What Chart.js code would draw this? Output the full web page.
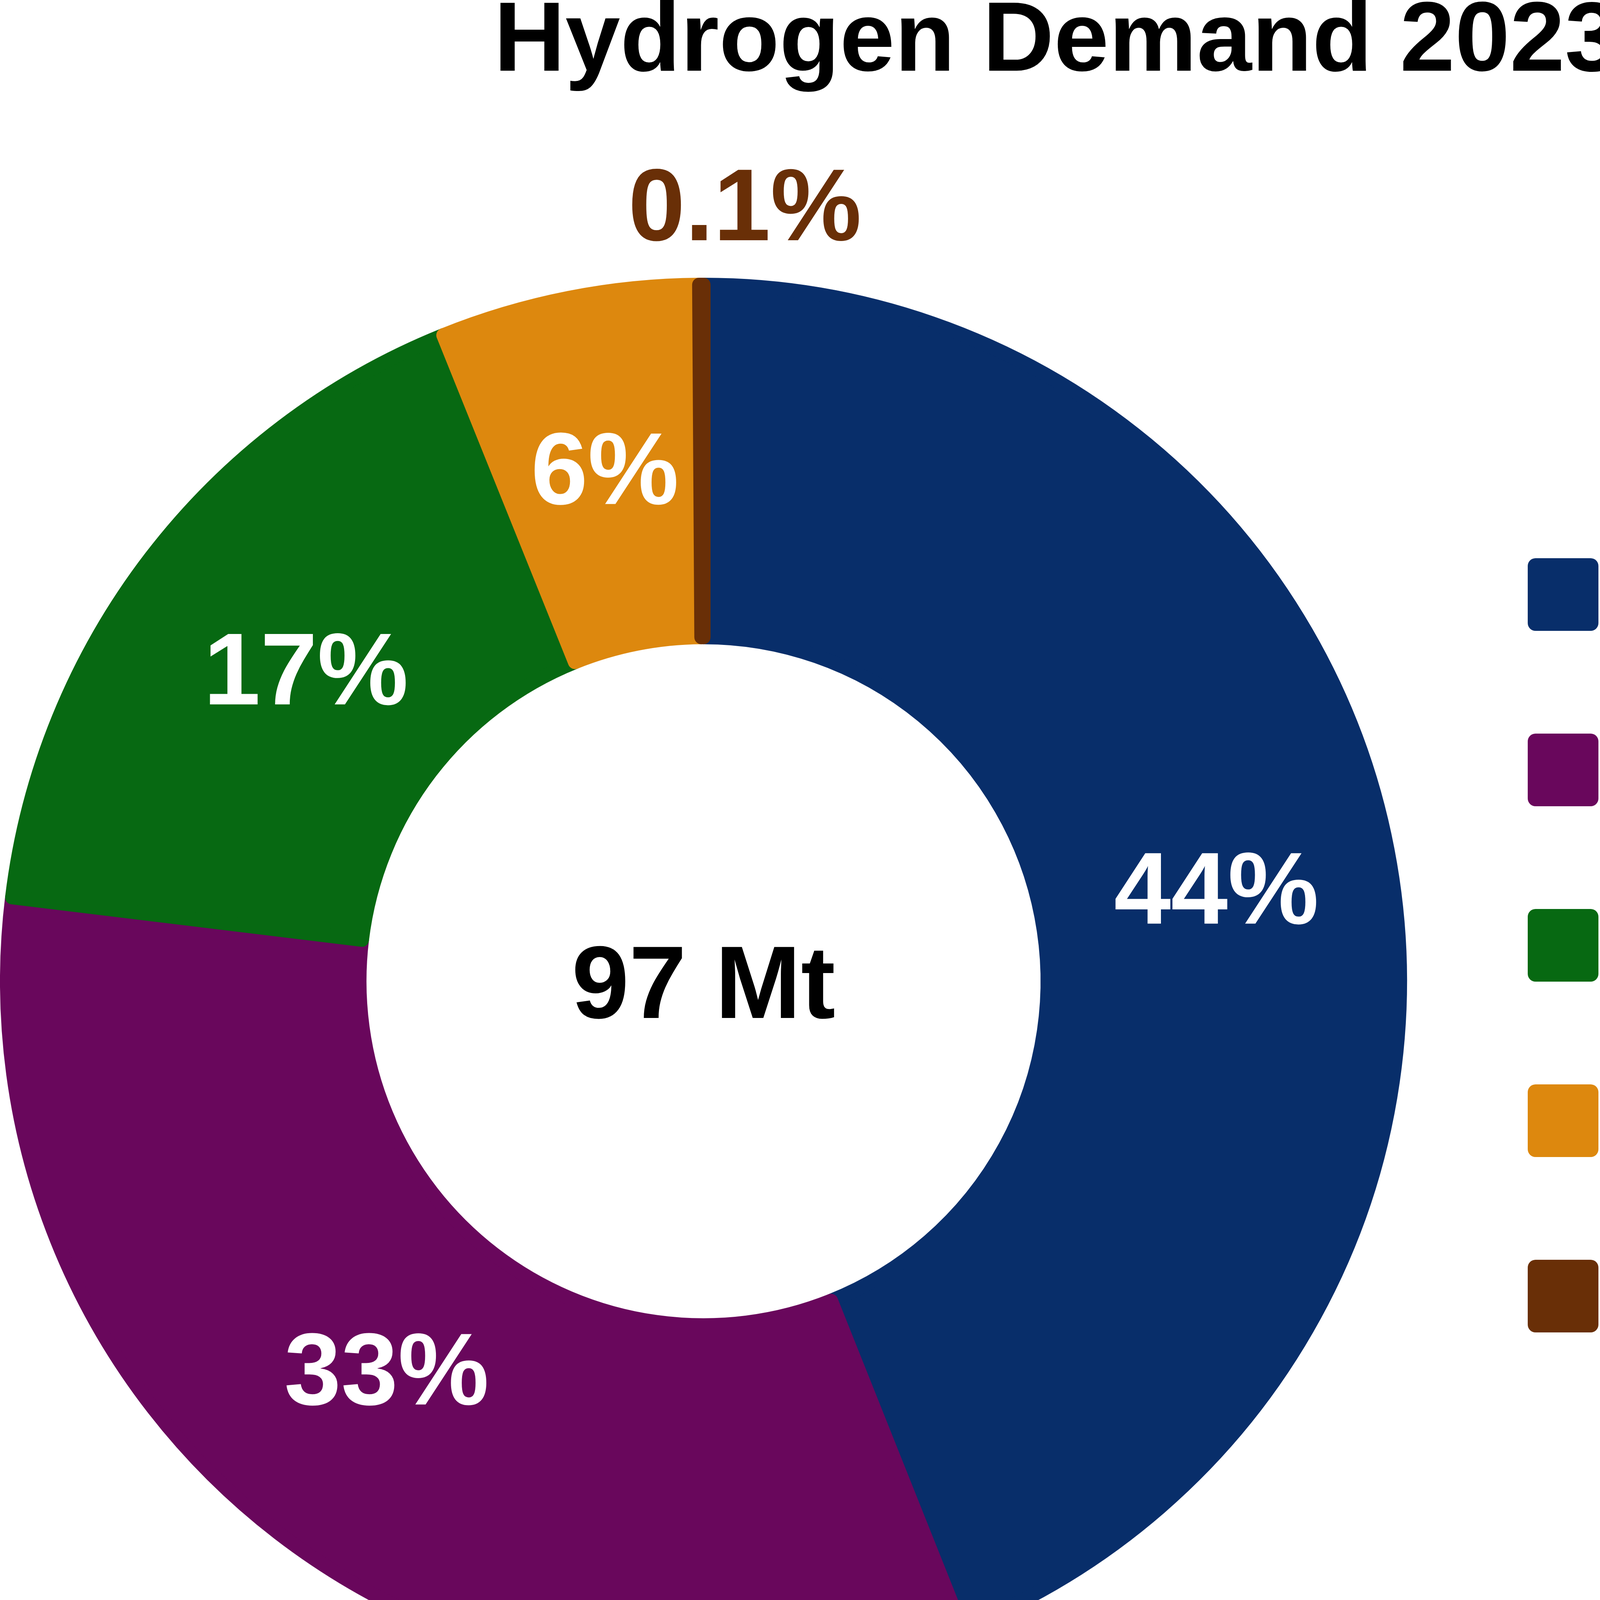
<!DOCTYPE html>
<html>
<head>
<meta charset="utf-8">
<title>Hydrogen Demand 2023</title>
<script src="https://cdn.jsdelivr.net/npm/chart.js@4.4.1/dist/chart.umd.min.js"></script>
<style>
  html, body { margin: 0; padding: 0; background: #ffffff; overflow: hidden; }
  #wrap { width: 5411px; height: 4313px; position: relative; }
</style>
</head>
<body>
<div id="wrap"><canvas id="demand-chart"></canvas></div>
<script>
// Chart data
const chartTitle = 'Hydrogen Demand 2023';
const sectors = ['Refining', 'Ammonia', 'Methanol', 'Steel', 'Transport'];
const shares = [44, 33, 17, 6, 0.1];
const sectorColors = ['#082e6a', '#69075c', '#076912', '#dd880e', '#692f07'];
const totalDemand = 97;
const totalUnit = 'Mt';

const FONT = '"Liberation Sans", Arial, Helvetica, sans-serif';

// small hand nudges (px) so the slice labels sit where the original put them
const labelNudge = [[5, 10], [1, -66], [39, 8], [5, -9], [112, 0]];

// Title centred over the whole canvas (the built-in one would sit over the chart area only)
const pageTitle = {
  id: 'pageTitle',
  afterDraw(chart) {
    const ctx = chart.ctx;
    ctx.save();
    ctx.fillStyle = '#000000';
    ctx.font = 'bold 253px ' + FONT;
    ctx.textAlign = 'center';
    ctx.textBaseline = 'alphabetic';
    ctx.fillText(chartTitle, chart.width / 2, 181);
    ctx.restore();
  }
};

// Percentage labels on each slice (tiny slices go outside in their own colour)
const sliceLabels = {
  id: 'sliceLabels',
  afterDatasetsDraw(chart) {
    const ctx = chart.ctx;
    const meta = chart.getDatasetMeta(0);
    ctx.save();
    ctx.font = 'bold 262px ' + FONT;
    ctx.textAlign = 'center';
    ctx.textBaseline = 'alphabetic';
    meta.data.forEach((arc, i) => {
      const text = shares[i] + '%';
      const [dx, dy] = labelNudge[i];
      if (shares[i] < 1) {
        const p = arc.getProps(['x', 'y', 'startAngle', 'endAngle', 'outerRadius']);
        const mid = (p.startAngle + p.endAngle) / 2;
        const r = p.outerRadius + 208;
        ctx.fillStyle = sectorColors[i];
        ctx.fillText(text, p.x + Math.cos(mid) * r + dx, p.y + Math.sin(mid) * r + 94 + dy);
      } else {
        const pos = arc.tooltipPosition();
        ctx.fillStyle = '#ffffff';
        ctx.fillText(text, pos.x + dx, pos.y + 94 + dy);
      }
    });

    // total in the hole
    const c = meta.data[0];
    ctx.fillStyle = '#000000';
    ctx.font = 'bold 264px ' + FONT;
    ctx.fillText(totalDemand + ' ' + totalUnit, c.x, c.y + 94);
    ctx.restore();
  }
};

// Legend on the right, drawn by hand so it can overflow like the original
const sideLegend = {
  id: 'sideLegend',
  afterDraw(chart) {
    const ctx = chart.ctx;
    const left = chart.chartArea.right + 309;
    const firstRow = 1522;
    const rowGap = 449;
    ctx.save();
    sectors.forEach((name, i) => {
      const cy = firstRow + i * rowGap;
      ctx.fillStyle = sectorColors[i];
      ctx.beginPath();
      ctx.roundRect(left, cy - 93, 181, 186, 20);
      ctx.fill();
      ctx.fillStyle = '#000000';
      ctx.font = '253px ' + FONT;
      ctx.textAlign = 'left';
      ctx.textBaseline = 'alphabetic';
      ctx.fillText(name, left + 415, cy + 66);
    });
    ctx.restore();
  }
};

new Chart(document.getElementById('demand-chart'), {
  type: 'doughnut',
  data: {
    labels: sectors,
    datasets: [{
      data: shares,
      backgroundColor: sectorColors,
      borderColor: sectorColors,
      borderWidth: 36,
      borderJoinStyle: 'round',
      hoverOffset: 0
    }]
  },
  options: {
    responsive: true,
    maintainAspectRatio: false,
    devicePixelRatio: 1,
    animation: false,
    cutout: '49.4%',
    layout: {
      padding: { top: 711, right: 1809, bottom: 0, left: 0 }
    },
    plugins: {
      legend: { display: false },
      tooltip: { enabled: false },
      title: { display: false }
    }
  },
  plugins: [pageTitle, sliceLabels, sideLegend]
});
</script>
</body>
</html>
